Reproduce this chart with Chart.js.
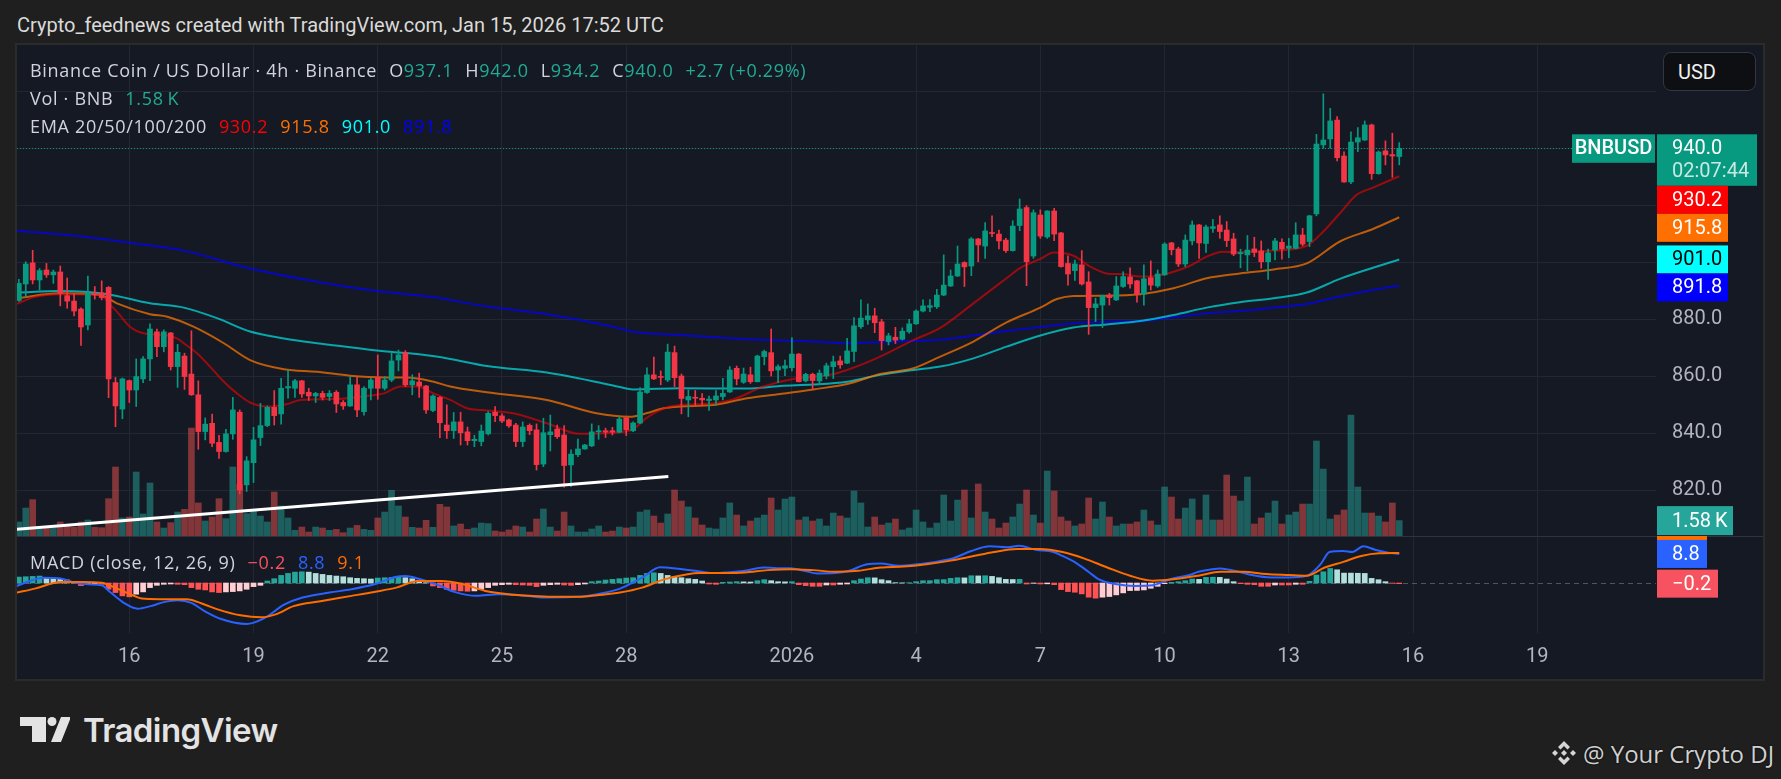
<!DOCTYPE html>
<html>
<head>
<meta charset="utf-8">
<title>BNBUSD 4h</title>
<style>
  html, body { margin:0; padding:0; }
  body { width:1781px; height:779px; background:#1f1f1f; position:relative; overflow:hidden; font-family: Roboto, "Noto Sans", sans-serif; }
  #title { position:absolute; left:17px; top:13px; font-size:20px; line-height:24px; color:#dadada; white-space:nowrap; }
  #frame { position:absolute; left:15px; top:43px; width:1746px; height:634px; border:2px solid #2b2b2b; background:#151924; }
  canvas { position:absolute; left:17px; }
  #priceCanvas { top:45px; }
  #macdCanvas { top:536px; }
  .legend { position:absolute; left:30px; font-family:"Open Sans", Roboto, sans-serif; font-size:18px; letter-spacing:0.7px; line-height:20px; color:#d1d4dc; white-space:nowrap; z-index:2; }
  .legend .g { margin-left:12px; }
  #usd { position:absolute; left:1663px; top:52px; width:93px; height:39px; border:1px solid #34373f; border-radius:8px; background:#0e0f12; color:#f0f0f0; font-size:20px; line-height:39px; padding-left:14px; box-sizing:border-box; z-index:2; }
  #tvlogo { position:absolute; left:20px; top:712px; height:40px; white-space:nowrap; z-index:2; }
  #tvlogo svg { position:absolute; left:0; top:5px; }
  #tvlogo span { position:absolute; left:63px; top:-2px; font-family: Inter, Roboto, sans-serif; font-weight:600; font-size:33px; letter-spacing:-0.6px; color:#e3e3e3; }
  #mark { position:absolute; left:1550px; top:737px; height:32px; white-space:nowrap; z-index:2; }
  #mark svg { position:absolute; left:0; top:2px; }
  #mark span { position:absolute; left:33px; top:0px; font-family:"Open Sans", sans-serif; font-size:24px; color:#d0d0d0; text-shadow:0 0 2px #000; }
</style>
</head>
<body>
<div id="title">Crypto_feednews created with TradingView.com, Jan 15, 2026 17:52 UTC</div>
<div id="frame"></div>
<canvas id="priceCanvas" width="1746" height="491"></canvas>
<canvas id="macdCanvas" width="1746" height="143"></canvas>
<div class="legend" id="leg1" style="top:60px"></div>
<div class="legend" id="leg2" style="top:88px"></div>
<div class="legend" id="leg3" style="top:116px"></div>
<div class="legend" id="leg4" style="top:552px"></div>
<div id="usd">USD</div>
<div id="tvlogo">
  <svg width="50" height="25" viewBox="0 0 50 25"><g fill="#e3e3e3">
    <path d="M0 0 H26 V25 H12 V9 H0 Z"/><circle cx="32" cy="4.5" r="4.5"/><path d="M41 0 H51 L41 25 H31 Z"/></g></svg>
  <span>TradingView</span>
</div>
<div id="mark">
  <svg width="28" height="28" viewBox="0 0 28 28"><g fill="#d6d6d6">
    <path d="M14 2 L20 8 L17.5 10.5 L14 7 L10.5 10.5 L8 8 Z"/>
    <path d="M14 26 L20 20 L17.5 17.5 L14 21 L10.5 17.5 L8 20 Z"/>
    <path d="M14 11 L17 14 L14 17 L11 14 Z"/>
    <path d="M5 11 L8 14 L5 17 L2 14 Z"/>
    <path d="M23 11 L26 14 L23 17 L20 14 Z"/></g></svg>
  <span>@ Your Crypto DJ</span>
</div>
<script src="https://cdn.jsdelivr.net/npm/chart.js@4.4.1/dist/chart.umd.min.js"></script>
<script>
// 4h candles, index 0 = Dec 16 00:00 UTC, first visible bar is index -16
const firstK = -16;
const opens = [
  886.6, 892.4, 899.8, 893.8, 897.3, 895.6, 896.6, 888.3, 886.4, 883.6,
  878.0, 889.0, 889.3, 891.2, 857.8, 848.5, 858.5, 855.2, 859.1, 866.1,
  875.6, 870.4, 875.2, 863.4, 867.1, 860.8, 853.5, 840.6, 843.5, 836.8,
  833.6, 839.8, 847.4, 821.9, 829.7, 838.5, 842.7, 849.1, 846.8, 855.9,
  855.8, 858.4, 854.4, 853.1, 854.0, 852.9, 854.4, 850.8, 849.6, 857.0,
  847.6, 855.8, 859.6, 855.8, 858.7, 865.7, 868.3, 857.0, 858.0, 856.6,
  848.0, 852.6, 842.9, 840.9, 844.0, 840.5, 837.4, 837.1, 839.8, 847.4,
  846.1, 844.7, 842.9, 837.1, 842.8, 841.2, 829.2, 839.5, 841.5, 839.4,
  828.9, 832.5, 834.5, 835.6, 840.5, 840.9, 840.9, 840.4, 845.5, 840.9,
  843.6, 854.3, 860.5, 859.9, 858.7, 868.3, 860.1, 851.7, 852.5, 852.3,
  851.5, 851.7, 852.9, 854.5, 862.8, 857.9, 860.5, 858.1, 866.9, 868.3,
  862.2, 862.8, 863.0, 867.8, 858.4, 860.7, 858.4, 860.1, 863.4, 865.4,
  864.6, 868.7, 877.4, 879.8, 881.2, 879.1, 872.2, 873.7, 873.0, 875.6,
  878.4, 882.9, 884.2, 884.4, 888.5, 891.7, 895.2, 899.9, 898.7, 908.2,
  905.7, 910.4, 909.9, 907.8, 904.1, 912.9, 919.2, 902.2, 916.6, 908.9,
  918.0, 910.3, 899.6, 897.1, 899.1, 893.1, 884.1, 885.0, 888.5, 886.8,
  891.5, 894.9, 893.5, 888.8, 894.6, 891.7, 895.6, 906.8, 904.7, 899.4,
  907.5, 913.1, 906.6, 911.9, 913.1, 911.3, 908.2, 903.0, 902.6, 904.7,
  904.0, 900.2, 904.3, 907.0, 904.9, 904.9, 909.6, 907.3, 917.0, 941.2,
  943.3, 949.9, 937.3, 928.2, 942.2, 942.9, 948.2, 931.1, 939.1, 937.8,
  937.1
];
const highs = [
  894.0, 900.2, 904.2, 897.8, 899.6, 897.3, 898.7, 894.5, 889.1, 884.0,
  895.2, 891.5, 893.5, 891.5, 859.6, 859.4, 858.7, 866.1, 866.9, 878.4,
  876.6, 876.3, 875.4, 871.2, 868.1, 876.0, 858.4, 845.4, 846.7, 839.3,
  841.4, 852.6, 848.2, 831.8, 842.1, 850.5, 849.6, 855.0, 859.3, 862.2,
  858.9, 858.6, 855.8, 854.4, 854.8, 855.0, 855.0, 851.5, 859.9, 859.6,
  856.4, 859.3, 867.5, 859.9, 868.3, 869.2, 869.0, 860.5, 861.1, 856.8,
  853.5, 852.9, 850.0, 847.3, 847.4, 842.2, 839.3, 842.9, 847.6, 849.4,
  846.8, 845.0, 843.5, 844.0, 843.3, 843.3, 845.3, 846.4, 842.9, 842.7,
  834.2, 838.0, 836.1, 843.3, 842.7, 841.8, 842.1, 845.8, 845.5, 844.0,
  856.0, 863.0, 866.7, 861.9, 871.3, 870.6, 860.8, 855.2, 855.0, 853.9,
  853.1, 855.0, 859.3, 863.4, 863.6, 862.9, 863.2, 867.4, 869.2, 876.6,
  864.0, 865.7, 873.6, 868.0, 861.1, 861.1, 862.2, 864.6, 867.1, 867.1,
  873.3, 880.6, 886.8, 885.4, 883.9, 880.0, 875.1, 877.2, 877.0, 880.0,
  883.3, 886.8, 886.9, 890.5, 902.6, 897.3, 905.7, 900.2, 908.7, 908.4,
  913.9, 916.3, 911.3, 908.4, 914.6, 922.2, 919.9, 918.4, 918.4, 918.1,
  918.9, 910.5, 902.3, 900.8, 904.1, 896.7, 887.4, 888.5, 889.1, 895.0,
  896.7, 898.1, 893.7, 899.1, 900.5, 897.3, 906.9, 907.0, 905.3, 909.6,
  914.5, 913.3, 913.1, 915.1, 916.3, 914.3, 910.2, 904.6, 909.4, 908.8,
  907.5, 904.6, 908.4, 908.2, 908.4, 913.9, 911.9, 916.5, 944.9, 959.1,
  954.0, 951.1, 938.8, 945.8, 947.3, 949.6, 948.5, 939.1, 942.6, 945.3,
  942.0
];
const lows = [
  886.3, 887.9, 892.4, 890.3, 894.7, 892.6, 884.7, 883.9, 881.2, 870.8,
  876.3, 887.1, 886.8, 852.5, 842.3, 845.1, 850.8, 849.4, 857.8, 858.5,
  866.9, 868.6, 862.2, 856.1, 855.4, 853.3, 834.4, 837.7, 835.3, 831.2,
  833.4, 837.9, 818.7, 819.6, 822.7, 835.7, 842.3, 842.9, 843.2, 852.3,
  852.6, 852.6, 851.5, 850.8, 851.7, 851.5, 847.3, 848.4, 849.4, 845.8,
  846.4, 851.7, 851.9, 855.2, 858.1, 861.9, 856.4, 853.5, 852.6, 847.0,
  847.6, 838.5, 838.2, 838.2, 835.9, 835.9, 835.3, 835.6, 839.4, 844.1,
  843.7, 842.1, 835.3, 835.3, 839.5, 827.1, 828.3, 833.8, 838.2, 821.1,
  821.3, 831.8, 834.4, 835.3, 837.9, 838.5, 839.4, 840.2, 839.2, 840.6,
  843.4, 854.0, 858.8, 857.0, 858.1, 856.4, 846.8, 845.8, 849.6, 849.6,
  848.0, 849.8, 851.7, 854.3, 857.0, 857.5, 857.5, 858.0, 864.0, 860.1,
  857.8, 860.2, 861.9, 858.0, 858.0, 855.4, 857.0, 859.1, 859.2, 862.8,
  864.4, 865.1, 876.8, 878.2, 875.3, 869.2, 871.0, 871.5, 872.7, 875.1,
  878.2, 882.6, 882.7, 883.8, 888.3, 891.5, 895.0, 891.5, 895.3, 900.2,
  901.4, 909.0, 904.7, 903.5, 903.9, 911.1, 891.8, 901.4, 908.4, 908.4,
  907.6, 898.3, 892.0, 893.6, 892.0, 874.7, 879.2, 877.1, 885.0, 886.6,
  891.2, 890.9, 886.0, 885.0, 890.3, 891.2, 895.4, 902.6, 898.5, 898.5,
  906.1, 901.4, 903.5, 910.5, 908.4, 905.5, 902.3, 898.1, 897.0, 902.0,
  897.9, 894.0, 900.8, 901.1, 901.6, 904.7, 905.8, 905.5, 916.3, 940.0,
  940.0, 935.6, 928.0, 927.6, 938.8, 942.7, 929.1, 930.9, 934.2, 929.8,
  934.2
];
const closes = [
  892.6, 899.4, 893.8, 897.1, 895.6, 896.6, 889.1, 886.4, 882.9, 877.3,
  889.1, 888.6, 887.6, 859.1, 849.6, 859.1, 855.2, 859.9, 866.1, 876.6,
  870.4, 875.6, 863.4, 868.4, 859.9, 853.5, 840.6, 843.2, 836.5, 833.6,
  839.8, 848.2, 820.1, 830.3, 837.7, 842.7, 849.1, 846.2, 855.8, 856.4,
  858.4, 853.8, 853.1, 854.0, 852.6, 854.0, 850.3, 849.6, 857.0, 848.2,
  855.8, 858.7, 855.8, 858.7, 865.4, 867.5, 857.0, 858.4, 856.6, 848.2,
  853.1, 843.7, 840.9, 844.0, 840.2, 837.4, 837.9, 840.8, 847.0, 846.2,
  844.3, 842.6, 837.1, 842.2, 840.9, 829.0, 840.2, 840.5, 838.8, 828.7,
  832.7, 834.5, 835.9, 840.5, 840.9, 840.4, 840.4, 845.0, 841.2, 843.6,
  854.5, 860.5, 859.1, 859.6, 868.5, 859.5, 852.2, 852.9, 852.3, 851.7,
  852.0, 853.1, 854.0, 862.2, 859.1, 860.8, 858.1, 867.1, 868.7, 861.9,
  863.4, 863.7, 867.8, 858.1, 860.7, 858.5, 861.1, 863.7, 865.1, 864.0,
  868.9, 877.7, 880.4, 881.2, 878.8, 872.5, 874.2, 872.7, 875.8, 878.4,
  882.9, 884.7, 884.8, 888.5, 892.0, 895.2, 899.4, 898.4, 908.2, 906.1,
  911.0, 910.1, 907.5, 904.1, 912.7, 918.7, 900.2, 917.4, 909.2, 918.0,
  909.9, 898.5, 895.9, 899.4, 892.4, 884.1, 885.4, 888.3, 887.6, 891.7,
  895.0, 892.4, 888.8, 894.2, 892.0, 895.9, 906.4, 904.4, 899.4, 907.8,
  913.1, 906.8, 912.4, 912.5, 910.8, 907.6, 902.9, 903.4, 904.3, 903.5,
  900.2, 903.3, 907.5, 904.7, 905.7, 909.6, 906.4, 916.3, 941.5, 942.9,
  949.6, 936.7, 928.2, 942.2, 943.7, 948.2, 931.1, 938.7, 937.7, 937.3,
  940.0
];
// volume in thousands of BNB
const volumes = [
  1.44, 2.87, 3.73, 0.75, 0.92, 0.90, 1.44, 1.10, 0.90, 1.44,
  1.64, 0.90, 0.85, 3.83, 7.08, 1.85, 1.95, 6.57, 2.26, 5.44,
  1.44, 0.82, 1.37, 2.46, 2.74, 11.08, 3.39, 1.54, 1.95, 3.83,
  1.78, 7.08, 5.27, 2.29, 2.63, 2.05, 1.44, 4.51, 3.08, 1.85,
  0.58, 0.92, 0.41, 0.92, 0.82, 0.58, 0.68, 0.34, 0.82, 1.09,
  0.68, 0.58, 1.85, 2.46, 4.69, 3.08, 1.95, 0.89, 0.82, 1.61,
  0.89, 3.25, 2.98, 1.03, 1.23, 0.68, 0.82, 1.33, 1.27, 0.51,
  0.41, 0.62, 1.03, 0.92, 0.41, 1.74, 2.77, 0.92, 0.51, 2.46,
  1.03, 0.41, 0.41, 0.72, 1.03, 0.41, 0.51, 0.92, 0.82, 0.92,
  2.46, 2.67, 2.05, 1.33, 2.26, 4.72, 3.59, 2.98, 1.85, 1.13,
  0.82, 0.72, 1.85, 3.39, 2.15, 1.03, 1.54, 1.85, 2.15, 3.90,
  2.67, 3.80, 4.00, 1.64, 1.95, 1.54, 1.74, 1.03, 2.36, 2.05,
  1.85, 4.62, 3.39, 0.92, 1.95, 1.13, 1.33, 1.74, 0.62, 0.82,
  2.67, 1.44, 0.82, 1.33, 4.21, 1.54, 3.69, 4.72, 1.85, 5.34,
  2.46, 1.74, 0.82, 1.33, 1.95, 3.28, 4.72, 2.15, 1.33, 6.67,
  4.62, 1.95, 1.54, 1.03, 1.23, 3.90, 1.74, 3.49, 1.95, 1.03,
  1.23, 1.23, 1.44, 2.67, 1.54, 1.13, 5.03, 4.00, 1.74, 2.87,
  3.80, 1.64, 4.21, 1.64, 1.64, 6.26, 4.10, 3.59, 6.05, 1.23,
  1.85, 2.36, 3.59, 1.23, 2.15, 2.46, 3.28, 3.28, 9.75, 6.87,
  1.74, 2.15, 2.67, 12.41, 5.03, 2.36, 2.36, 2.05, 1.44, 3.39,
  1.58
];
// EMA lines as [bar index, value]
const ema20 = [[-16.3,885.4],[-13.9,887.7],[-10,888.8],[-4.2,888.5],[-2.75,885.0],[-1.8,882.7],[0.1,877.4],[2.1,875.1],[5,874.5],[6.9,873.3],[7.9,871.6],[9.8,868.1],[11.7,863.4],[13.7,858.1],[15.6,854.0],[17.5,850.8],[20,849.4],[22.9,850.3],[24.8,851.7],[29.6,852.0],[34.4,853.1],[36.9,854.0],[39.3,856.4],[41.7,856.4],[44.1,854.0],[46.5,851.7],[48.9,848.8],[51.8,848.0],[55.6,847.0],[60.5,843.5],[65.3,839.8],[70.1,840.2],[73,841.4],[74.9,845.3],[77.9,849.1],[79.8,849.9],[84.6,850.5],[87.5,851.9],[91.9,856.4],[96.7,859.3],[101.5,860.5],[104,862.2],[108.8,866.9],[113.6,872.7],[117.5,877.0],[122.3,885.6],[127.1,894.4],[129,897.9],[132,901.2],[133.9,903.4],[136.8,902.3],[139.2,898.5],[141.6,896.1],[144.1,895.8],[146.5,895.0],[148.9,895.3],[151.3,896.7],[153.7,898.8],[156.1,902.0],[158.5,903.7],[160.9,903.5],[165.8,904.1],[170.6,905.8],[173,910.8],[175.4,917.2],[177.8,923.6],[180.2,926.2],[184,930.2]];
const ema50 = [[-16.3,887.4],[-10,889.1],[-4.2,888.5],[-1.8,885.6],[3,881.8],[5.5,880.9],[9.3,877.4],[13.7,871.6],[17.5,865.7],[22.4,862.5],[27.2,861.6],[32,860.2],[36.9,859.6],[40.2,859.6],[44.1,858.1],[46.5,856.4],[51.8,854.4],[60.5,851.7],[67.7,847.0],[72.5,845.8],[74.9,847.0],[77.4,848.8],[79.8,849.4],[84.6,849.9],[89.5,852.3],[94.3,853.8],[99.1,855.4],[104,857.3],[108.8,860.8],[113.6,862.8],[117.5,866.9],[122.3,872.2],[127.1,878.9],[132,884.1],[134.4,887.1],[136.8,888.2],[141.6,888.3],[146.5,888.8],[151.3,890.9],[156.1,894.4],[160.9,896.1],[165.8,897.5],[170.6,899.6],[175.4,907.3],[180.2,911.7],[184,915.8]];
const ema100 = [[-16.3,889.4],[-10,889.9],[-3.2,888.8],[3,885.6],[7.9,884.1],[12.7,880.4],[17.5,875.7],[22.4,873.3],[27.2,871.6],[32,870.2],[36.9,868.8],[41.7,867.8],[46.5,866.1],[51.8,863.6],[60.5,861.3],[70.1,856.8],[73,855.4],[79.8,855.8],[89.5,855.7],[94.3,856.6],[99.1,857.1],[104,858.1],[108.8,860.5],[113.6,862.2],[117.5,863.4],[122.3,866.3],[127.1,870.4],[132,874.3],[136.8,877.1],[141.6,878.2],[146.5,879.4],[151.3,881.5],[156.1,884.1],[160.9,886.0],[165.8,887.4],[170.6,889.4],[175.4,894.2],[180.2,898.1],[184,901.0]];
const ema200 = [[-16.3,911.1],[-6.6,909.0],[0,906.9],[7.9,904.1],[17.5,897.8],[27.2,893.2],[35.9,889.9],[44.1,887.7],[51.8,884.5],[60.5,881.8],[70.1,877.4],[73,875.6],[79.8,874.5],[89.5,873.0],[99.1,872.2],[104,871.6],[108.8,872.0],[113.6,872.4],[117.5,872.8],[122.3,874.3],[127.1,875.9],[132,877.3],[136.8,878.6],[141.6,879.1],[146.5,879.4],[151.3,880.7],[156.1,882.1],[160.9,882.9],[165.8,884.1],[170.6,885.4],[175.4,888.0],[180.2,890.3],[184,891.8]];
// hand drawn support line
const trendK = [-16.3, 78.1];
const trendP = [806.3, 824.8];
// MACD (12, 26, 9)
const macdLine = [[-16.3,-0.9],[-14.4,0.6],[-12.4,1.6],[-9.8,1.3],[-7.9,0.1],[-5.9,-0.4],[-4.0,-0.7],[-2.7,-2.9],[-0.8,-6.0],[1.2,-7.8],[3.1,-7.0],[5.0,-5.8],[7.0,-5.2],[9.0,-6.0],[10.9,-8.5],[13.3,-10.9],[17.0,-12.4],[19.5,-10.7],[22.5,-6.5],[25.1,-4.4],[29.0,-2.9],[32.2,-1.9],[35.5,-0.4],[38.7,1.9],[40.0,2.1],[41.9,1.3],[44.5,-0.4],[47.1,-2.7],[50.3,-3.9],[53.6,-3.4],[56.8,-3.7],[60.1,-4.4],[65.2,-4.2],[67.8,-3.4],[71.1,-1.7],[74.3,1.6],[76.9,4.8],[79.5,4.3],[82.7,3.5],[84.7,3.0],[86.6,3.2],[89.2,3.7],[91.9,4.7],[93.8,4.5],[95.8,4.5],[97.8,3.7],[99.7,2.9],[102.3,3.0],[104.3,3.7],[106.9,5.7],[108.9,5.9],[111.5,5.2],[114.2,5.7],[116.8,6.4],[119.4,7.5],[122.0,9.7],[124.7,11.1],[127.3,10.8],[128.9,11.3],[131.3,10.1],[133.9,9.4],[135.2,8.2],[137.1,6.2],[139.1,3.2],[140.4,1.2],[143.1,-0.4],[145.7,-0.9],[148.3,-0.7],[149.6,0.2],[150.9,1.2],[153.6,2.4],[154.9,3.4],[156.9,4.2],[158.1,4.4],[160.1,3.7],[162.7,2.4],[165.4,1.7],[168.0,1.7],[170.6,2.2],[172.6,5.7],[173.9,9.4],[175.9,9.7],[177.2,9.4],[178.8,11.1],[180.5,10.1],[182.4,9.2],[184.0,8.8]];
const signalLine = [[-16.3,-2.9],[-13.7,-1.7],[-11.1,-0.1],[-9.8,0.3],[-6.6,0.3],[-4.0,0.1],[-2.1,-1.4],[0.5,-3.7],[1.8,-4.7],[4.4,-4.9],[8.3,-4.9],[10.9,-6.5],[12.8,-8.0],[16.1,-9.8],[19.1,-10.4],[21.2,-9.5],[23.8,-7.0],[27.7,-5.5],[32.2,-3.9],[35.5,-2.7],[38.7,-1.4],[41.9,0.6],[45.2,0.6],[48.4,-0.4],[51.6,-2.4],[54.9,-3.4],[58.0,-3.9],[61.3,-4.2],[65.2,-4.2],[67.8,-3.7],[71.1,-2.9],[74.3,-1.4],[77.5,1.1],[80.7,2.6],[82.7,3.0],[86.6,3.0],[89.2,3.2],[92.5,3.9],[95.8,4.2],[99.1,3.9],[102.3,3.4],[105.6,3.7],[108.9,4.7],[112.2,5.0],[115.5,5.7],[118.8,6.7],[122.0,8.0],[125.3,9.4],[128.6,10.3],[131.9,10.3],[135.2,9.4],[138.4,7.4],[141.7,4.7],[145.0,2.2],[148.3,0.7],[151.6,1.2],[154.9,2.2],[158.1,3.4],[161.4,3.4],[164.7,2.7],[168.0,2.4],[170.6,2.2],[173.2,4.7],[175.9,6.4],[178.5,8.2],[181.1,9.0],[184.0,9.1]];
const macdHist = [
  1.8, 1.9, 2.0, 2.1, 1.7, 1.4, 1.2, 0.9, 0.5, -0.8, -0.3, -0.2, -0.4,
  -1.9, -2.9, -3.9, -4.2, -3.4, -2.7, -1.4, -0.7, -0.4, -0.3, -0.4, -0.5,
  -1.4, -1.9, -2.1, -2.7, -2.9, -2.7, -2.6, -2.4, -1.9, -1.1, -0.7,
  0.6, 1.3, 2.3, 2.9, 3.3, 3.4, 3.3, 2.9, 2.6, 2.3, 2.1, 1.9, 1.6, 1.4, 1.3, 1.2, 1.5, 1.6, 1.7, 1.9, 1.6, 1.3, 0.8, 0.1,
  -0.9, -1.4, -1.9, -2.2, -2.4, -2.5, -2.4, -1.9, -1.4, -0.7, -0.5, -0.4, -0.5, -0.6, -0.7, -1.1, -0.7, -0.5, -0.4, -0.6, -0.7, -0.5, -0.3,
  0.4, 0.6, 0.9, 1.1, 1.3, 1.5, 1.6, 2.3, 2.9, 3.1, 2.9, 2.3, 1.9, 1.6, 1.3,
  1.1, 0.6, -0.3, -0.4, 0.2, 0.3, 0.4, 0.35, 0.3, 0.7, 1.0, 0.7, 0.4, 0.35, 0.4, -0.5, -0.8, -1.0, -1.0, -0.6, -0.6, -0.4, -0.3,
  0.7, 1.2, 1.6, 1.55, 1.0, 0.7, 0.1, 0.05, 0.1, 0.4, 0.7, 0.71, 1.0, 1.01, 1.4, 1.6, 1.55, 2.2, 2.15, 2.2, 2.0, 1.6, 1.1, 1.05, 1.1,
  -0.3, -0.1, -0.3, -0.25, -0.5, -2.0, -2.6, -2.8, -3.3, -4.3, -4.6, -4.3, -4.1, -3.6, -3.0, -2.3, -2.25, -2.1, -1.6, -1.0, -0.2, 0.2, 0.4, 0.7, 1.2, 1.1, 1.7, 1.75, 1.7, 1.2, 0.4,
  -0.2, -0.4, -0.5, -1.0, -1.0, -0.6, -0.6, -0.6, -0.4, -0.4, 0.5, 2.4, 3.4, 4.4, 4.0, 3.0, 3.0, 2.95, 2.9, 1.4, 1.0, 0.4, -0.1, -0.2
];
// time axis: ticks every 3 days (18 bars), the new year replaces Dec 31
const tickK = [0, 18, 36, 54, 72, 96, 114, 132, 150, 168, 186, 204];
const tickLabels = ['16', '19', '22', '25', '28', '2026', '4', '7', '10', '13', '16', '19'];
const gridPrices = [820, 840, 860, 880, 900, 920, 940, 960];
const axisPrices = [820, 840, 860, 880];
const countdown = '02:07:44';

// visible window
const xMin = -16.27, xMax = 221.2;
const pMin = 803.96, pMax = 976.25;
const volMax = 50.4;
const mMin = -15.15, mMax = 14.24;

Chart.defaults.font.family = "Roboto, 'Noto Sans', sans-serif";
Chart.defaults.color = '#b2b5be';

const GRID = '#232733';
const UP = '#089981', DOWN = '#f23645';
const bars = opens.map((o, i) => firstK + i);
const isUp = closes.map((c, i) => c >= opens[i]);
const candleColors = isUp.map(u => u ? UP : DOWN);
const volColors = isUp.map(u => u ? 'rgba(38,166,154,0.5)' : 'rgba(239,83,80,0.5)');
const histColors = macdHist.map((v, i) => {
  const rising = i === 0 || macdHist[i - 1] < v;
  if (v >= 0) return rising ? '#26a69a' : '#b2dfdb';
  return rising ? '#ffcdd2' : '#ff5252';
});
const xy = pairs => pairs.map(([x, y]) => ({x, y}));
const lastOf = arr => arr[arr.length - 1];
const noPad = s => { s.paddingTop = 0; s.paddingBottom = 0; s.paddingLeft = 0; s.paddingRight = 0; };
const minus = v => (v < 0 ? '\u2212' : '') + Math.abs(v).toFixed(1);

const lastClose = lastOf(closes);
const prevClose = closes[closes.length - 2];
const chg = lastClose - prevClose;
const legendUp = '#22ab94';

// legends
const n = opens.length - 1;
const valColor = closes[n] >= opens[n] ? legendUp : '#f7525f';
document.getElementById('leg1').innerHTML =
  'Binance Coin / US Dollar \u00b7 4h \u00b7 Binance' +
  `<span class="g">O<span style="color:${valColor}">${opens[n].toFixed(1)}</span></span>` +
  `<span class="g">H<span style="color:${valColor}">${highs[n].toFixed(1)}</span></span>` +
  `<span class="g">L<span style="color:${valColor}">${lows[n].toFixed(1)}</span></span>` +
  `<span class="g">C<span style="color:${valColor}">${closes[n].toFixed(1)}</span></span>` +
  `<span class="g" style="color:${valColor}">${chg >= 0 ? '+' : '\u2212'}${Math.abs(chg).toFixed(1)} (${chg >= 0 ? '+' : '\u2212'}${Math.abs(chg / prevClose * 100).toFixed(2)}%)</span>`;
document.getElementById('leg2').innerHTML =
  `Vol \u00b7 BNB<span class="g" style="color:${legendUp}">${lastOf(volumes).toFixed(2)}\u2009K</span>`;
const emaSets = [[ema20, '#ff0000'], [ema50, '#ff7000'], [ema100, '#00ffff'], [ema200, '#0000ff']];
document.getElementById('leg3').innerHTML = 'EMA 20/50/100/200' +
  emaSets.map(([e, c]) => `<span class="g" style="color:${c}">${lastOf(e)[1].toFixed(1)}</span>`).join('');
document.getElementById('leg4').innerHTML = 'MACD (close, 12, 26, 9)' +
  `<span class="g" style="color:#f7525f">${minus(lastOf(macdHist))}</span>` +
  `<span class="g" style="color:#2962ff">${minus(lastOf(macdLine)[1])}</span>` +
  `<span class="g" style="color:#ff6d00">${minus(lastOf(signalLine)[1])}</span>`;

function badge(ctx, x, top, w, h, bg, fg, text) {
  ctx.fillStyle = bg;
  ctx.fillRect(x, top, w, h);
  ctx.fillStyle = fg;
  ctx.font = '20px Roboto';
  ctx.textBaseline = 'middle';
  ctx.textAlign = 'left';
  ctx.fillText(text, x + 15, top + h / 2 + 1);
}

const priceBadges = {
  id: 'priceBadges',
  afterDatasetsDraw(chart) {
    const {ctx, chartArea, scales: {y}} = chart;
    const py = Math.round(y.getPixelForValue(lastClose)) + 0.5;
    ctx.save();
    ctx.strokeStyle = UP;
    ctx.lineWidth = 1;
    ctx.setLineDash([1, 2]);
    ctx.beginPath();
    ctx.moveTo(chartArea.left, py);
    ctx.lineTo(chartArea.right - 84, py);
    ctx.stroke();
    ctx.restore();
  },
  afterDraw(chart) {
    const {ctx, chartArea, scales: {y, yv}} = chart;
    const ax = chartArea.right + 1;
    const py = y.getPixelForValue(lastClose);
    ctx.save();
    // symbol tag + last price with countdown
    const top = py - 14;
    ctx.fillStyle = UP;
    ctx.fillRect(chartArea.right - 84, top, 83, 28.5);
    ctx.fillStyle = '#ffffff';
    ctx.font = '500 20px Roboto';
    ctx.textAlign = 'center';
    ctx.textBaseline = 'middle';
    ctx.fillText('BNBUSD', chartArea.right - 42.5, top + 15);
    ctx.fillStyle = UP;
    ctx.fillRect(ax, top, 100, 51.5);
    ctx.textAlign = 'left';
    ctx.font = '20px Roboto';
    ctx.fillStyle = '#ffffff';
    ctx.fillText(lastClose.toFixed(1), ax + 15, top + 15);
    ctx.fillStyle = 'rgba(255,255,255,0.78)';
    ctx.fillText(countdown, ax + 15, top + 38);
    // EMA tags, pushed down when they would overlap
    let prevBottom = top + 51.5;
    const fg = ['#ffffff', '#ffffff', '#000000', '#ffffff'];
    emaSets.forEach(([e, c], i) => {
      const v = lastOf(e)[1];
      let t = y.getPixelForValue(v) - 14;
      if (t < prevBottom) t = prevBottom;
      badge(ctx, ax, t, 71, 28, c, fg[i], v.toFixed(1));
      prevBottom = t + 28;
    });
    // volume tag
    const vy = yv.getPixelForValue(lastOf(volumes));
    badge(ctx, ax, vy - 14.5, 76, 29, '#26a69a', '#ffffff', lastOf(volumes).toFixed(2) + '\u2009K');
    ctx.restore();
  }
};

const macdBadges = {
  id: 'macdBadges',
  beforeDatasetsDraw(chart) {
    const {ctx, chartArea, scales: {y}} = chart;
    const zy = Math.round(y.getPixelForValue(0)) + 0.5;
    ctx.save();
    ctx.strokeStyle = 'rgba(120,123,134,0.6)';
    ctx.setLineDash([5, 4]);
    ctx.lineWidth = 1;
    ctx.beginPath();
    ctx.moveTo(chartArea.left, zy);
    ctx.lineTo(chartArea.right, zy);
    ctx.stroke();
    ctx.restore();
  },
  afterDraw(chart) {
    const {ctx, chartArea, scales: {y}} = chart;
    const ax = chartArea.right + 1;
    ctx.save();
    ctx.fillStyle = '#30333e';
    ctx.fillRect(0, 0, chart.width, 1);
    const sig = lastOf(signalLine)[1], mac = lastOf(macdLine)[1], h = lastOf(macdHist);
    const sTop = y.getPixelForValue(sig) - 17;
    ctx.fillStyle = '#ff6d00';
    ctx.fillRect(ax, sTop, 50, 28);
    const mTop = y.getPixelForValue(mac) - 14;
    badge(ctx, ax, mTop, 50, 28, '#2962ff', '#ffffff', minus(mac));
    let hTop = y.getPixelForValue(h) - 14;
    if (hTop < mTop + 29) hTop = mTop + 29;
    badge(ctx, ax, hTop, 61, 28, '#f7525f', '#ffffff', minus(h));
    ctx.restore();
  }
};

new Chart(document.getElementById('priceCanvas'), {
  type: 'bar',
  data: {
    datasets: [
      { label: 'Volume', data: volumes.map((v, i) => ({x: bars[i], y: v})), yAxisID: 'yv',
        backgroundColor: volColors, barThickness: 6, grouped: false, order: 20 },
      { type: 'line', label: 'EMA 200', data: xy(ema200), borderColor: 'rgba(0,0,255,0.72)', borderWidth: 2,
        pointRadius: 0, cubicInterpolationMode: 'monotone', order: 14 },
      { type: 'line', label: 'EMA 100', data: xy(ema100), borderColor: 'rgba(0,255,255,0.62)', borderWidth: 2,
        pointRadius: 0, cubicInterpolationMode: 'monotone', order: 13 },
      { type: 'line', label: 'EMA 50', data: xy(ema50), borderColor: 'rgba(255,118,0,0.72)', borderWidth: 2,
        pointRadius: 0, cubicInterpolationMode: 'monotone', order: 12 },
      { type: 'line', label: 'EMA 20', data: xy(ema20), borderColor: 'rgba(255,0,0,0.56)', borderWidth: 2,
        pointRadius: 0, cubicInterpolationMode: 'monotone', order: 11 },
      { label: 'Wicks', data: highs.map((h, i) => ({x: bars[i], y: [lows[i], h]})),
        backgroundColor: candleColors, barThickness: 1, grouped: false, order: 5 },
      { label: 'Bodies', data: opens.map((o, i) => ({x: bars[i], y: [Math.min(o, closes[i]), Math.max(o, closes[i])]})),
        backgroundColor: candleColors, barThickness: 5, minBarLength: 1, grouped: false, order: 4 },
      { type: 'line', label: 'Support', data: trendK.map((k, i) => ({x: k, y: trendP[i]})),
        borderColor: '#ffffff', borderWidth: 3, pointRadius: 0, order: 1 }
    ]
  },
  options: {
    responsive: false, animation: false, devicePixelRatio: 1,
    layout: { padding: 0 },
    plugins: { legend: { display: false }, tooltip: { enabled: false } },
    scales: {
      x: { type: 'linear', min: xMin, max: xMax, offset: false,
        grid: { color: GRID, drawTicks: false, offset: false }, border: { display: false },
        ticks: { display: false },
        afterBuildTicks: s => { s.ticks = tickK.map(v => ({value: v})); },
        afterFit: s => { s.height = 0; noPad(s); } },
      y: { type: 'linear', position: 'right', min: pMin, max: pMax, beginAtZero: false,
        grid: { color: GRID, drawTicks: false }, border: { display: false },
        ticks: { color: '#b2b5be', font: { size: 20 }, padding: 16,
          callback: v => axisPrices.includes(v) ? v.toFixed(1) : '' },
        afterBuildTicks: s => { s.ticks = gridPrices.map(v => ({value: v})); },
        afterFit: s => { s.width = 107; noPad(s); } },
      yv: { type: 'linear', display: false, min: 0, max: volMax }
    }
  },
  plugins: [priceBadges]
});

new Chart(document.getElementById('macdCanvas'), {
  type: 'bar',
  data: {
    datasets: [
      { label: 'Histogram', data: macdHist.map((v, i) => ({x: bars[i], y: v})),
        backgroundColor: histColors, barThickness: 5, grouped: false, order: 3 },
      { type: 'line', label: 'MACD', data: xy(macdLine), borderColor: '#2962ff', borderWidth: 2,
        pointRadius: 0, cubicInterpolationMode: 'monotone', order: 2 },
      { type: 'line', label: 'Signal', data: xy(signalLine), borderColor: '#ff6d00', borderWidth: 2,
        pointRadius: 0, cubicInterpolationMode: 'monotone', order: 1 }
    ]
  },
  options: {
    responsive: false, animation: false, devicePixelRatio: 1,
    layout: { padding: 0 },
    plugins: { legend: { display: false }, tooltip: { enabled: false } },
    scales: {
      x: { type: 'linear', min: xMin, max: xMax, offset: false,
        grid: { color: GRID, drawTicks: false, offset: false }, border: { display: false },
        ticks: { color: '#b2b5be', font: { size: 20 }, padding: 12, autoSkip: false, maxRotation: 0,
          callback: (v, i) => tickLabels[i] },
        afterBuildTicks: s => { s.ticks = tickK.map(v => ({value: v})); },
        afterFit: s => { s.height = 46; noPad(s); } },
      y: { type: 'linear', position: 'right', min: mMin, max: mMax, beginAtZero: false,
        grid: { display: false }, border: { display: false }, ticks: { display: false },
        afterFit: s => { s.width = 107; noPad(s); } }
    }
  },
  plugins: [macdBadges]
});
</script>
</body>
</html>
